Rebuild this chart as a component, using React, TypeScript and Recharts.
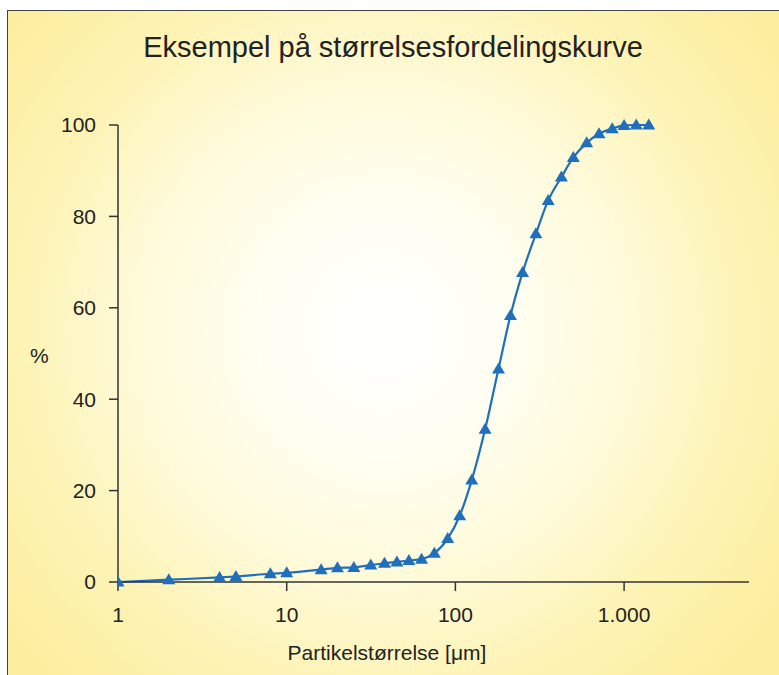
import { LineChart, Line, XAxis, YAxis } from "recharts";

// particle sizes (µm) and cumulative passing (%)
const sizes = [
  1, 2, 4, 5, 8, 10, 16, 20, 25, 31.5, 38, 45, 53, 63, 75, 90, 106, 125, 150,
  180, 212, 250, 300, 355, 425, 500, 600, 710, 850, 1000, 1180, 1400,
];
const passing = [
  0, 0.5, 1.0, 1.2, 1.8, 2.0, 2.7, 3.1, 3.2, 3.7, 4.1, 4.4, 4.7, 5.0, 6.3, 9.5,
  14.5, 22.3, 33.4, 46.6, 58.3, 67.7, 76.2, 83.5, 88.6, 92.9, 96.1, 98.1, 99.2,
  99.9, 100, 100,
];
const xTicks = [1, 10, 100, 1000];
const yTicks = [0, 20, 40, 60, 80, 100];

const title = "Eksempel på størrelsesfordelingskurve";
const xLabel = "Partikelstørrelse [μm]";
const yLabel = "%";

const data = sizes.map((s, i) => ({ size: s, pct: passing[i] }));

const BLUE = "#1f6fbd";
const FONT = "'Liberation Sans', Arial, Helvetica, sans-serif";

function Triangle(props: any) {
  const { cx, cy, index } = props;
  if (cx == null || cy == null) return null;
  const pts = `${cx},${cy - 6.5} ${cx + 6.5},${cy + 4.5} ${cx - 6.5},${cy + 4.5}`;
  return <polygon key={`tri-${index}`} points={pts} fill={BLUE} />;
}

const fmt = (v: number) => (v >= 1000 ? v.toLocaleString("de-DE") : String(v));

export default function App() {
  return (
    <div
      style={{
        position: "absolute",
        left: 0,
        top: 0,
        width: 779,
        height: 675,
        overflow: "hidden",
        background: "#fff",
        fontFamily: FONT,
      }}
    >
      <div
        style={{
          position: "absolute",
          left: 7,
          top: 10,
          width: 800,
          height: 700,
          borderLeft: "1.5px solid #444",
          borderTop: "1.5px solid #444",
          background:
            "radial-gradient(circle at 376px 320px, #ffffff 0%, #fffef2 22%, #fffad8 44%, #fdf3b4 64%, #fcee9e 85%)",
        }}
      />
      <div
        style={{
          position: "absolute",
          left: 0,
          width: 786,
          top: 31,
          textAlign: "center",
          fontSize: 29,
          color: "#222",
        }}
      >
        {title}
      </div>
      <div
        style={{
          position: "absolute",
          left: 30,
          top: 344,
          fontSize: 21,
          color: "#222",
        }}
      >
        {yLabel}
      </div>
      <div
        style={{
          position: "absolute",
          left: 0,
          width: 774,
          top: 641,
          textAlign: "center",
          fontSize: 21,
          color: "#222",
        }}
      >
        {xLabel}
      </div>
      <div style={{ position: "absolute", left: 0, top: 0 }}>
        <LineChart
          width={779}
          height={675}
          data={data}
          margin={{ top: 125, right: 30, bottom: 33, left: 0 }}
        >
          <XAxis
            dataKey="size"
            type="number"
            scale="log"
            domain={[1, 5500]}
            allowDataOverflow
            ticks={xTicks}
            tickFormatter={fmt}
            height={60}
            tickSize={9}
            tickMargin={16}
            stroke="#333"
            strokeWidth={1.5}
            tick={{ fill: "#222", fontSize: 21, fontFamily: FONT }}
          />
          <YAxis
            type="number"
            domain={[0, 100]}
            ticks={yTicks}
            width={118}
            tickSize={9}
            tickMargin={13}
            stroke="#333"
            strokeWidth={1.5}
            tick={{ fill: "#222", fontSize: 21, fontFamily: FONT }}
          />
          <Line
            dataKey="pct"
            type="monotone"
            stroke={BLUE}
            strokeWidth={2.2}
            dot={Triangle}
            activeDot={false}
            isAnimationActive={false}
          />
        </LineChart>
      </div>
    </div>
  );
}
